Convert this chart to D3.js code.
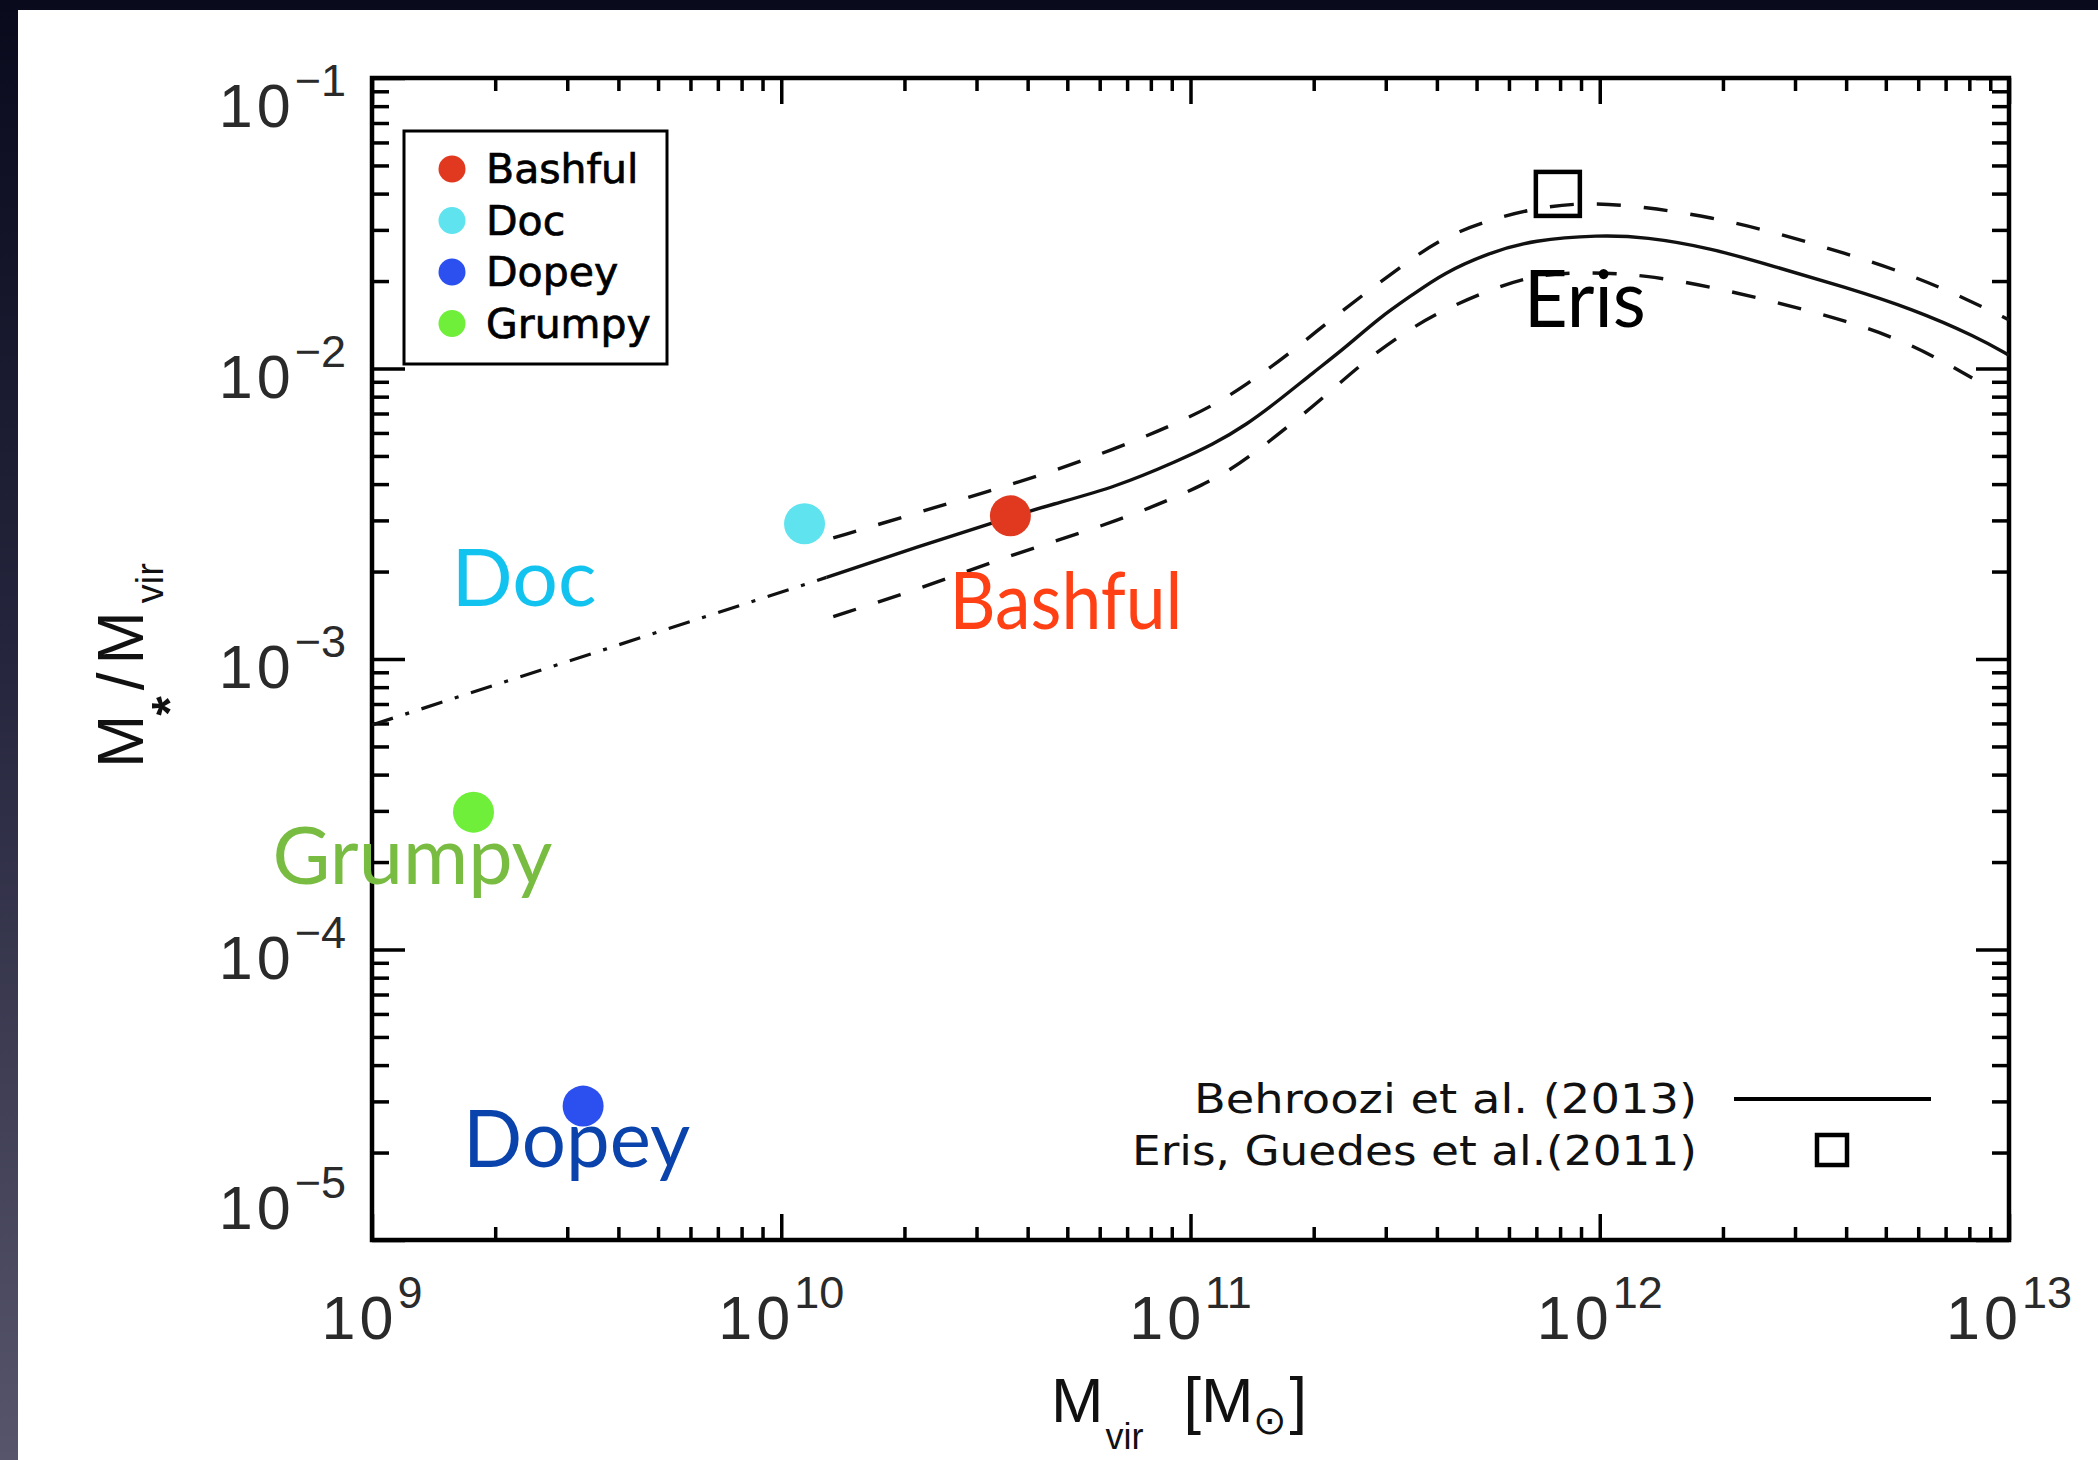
<!DOCTYPE html>
<html>
<head>
<meta charset="utf-8">
<script src="https://cdn.jsdelivr.net/npm/d3@7"></script>
<style>
  html, body { margin: 0; padding: 0; }
  body { width: 2098px; height: 1460px; overflow: hidden;
         background: linear-gradient(180deg, #0a0a1d 0%, #25253d 45%, #56556b 100%); }
  svg { display: block; }
</style>
</head>
<body>
<svg id="chart" width="2098" height="1460"></svg>
<script>
// ---------------- DATA ----------------
const xTickValues = [1e9, 1e10, 1e11, 1e12, 1e13];
const xTickExponents = ["9", "10", "11", "12", "13"];
const yTickValues = [1e-1, 1e-2, 1e-3, 1e-4, 1e-5];
const yTickExponents = ["\u22121", "\u22122", "\u22123", "\u22124", "\u22125"];

// dwarf galaxies [Mvir, M*/Mvir]
const dwarfNames  = ["Bashful", "Doc", "Dopey", "Grumpy"];
const dwarfMvir   = [3.63e10, 1.14e10, 3.28e9, 1.77e9];
const dwarfRatio  = [3.11e-3, 2.92e-3, 2.89e-5, 2.97e-4];
const dwarfColors = ["#e0391f", "#5fe3ee", "#2b50ef", "#6fee3a"];
const labelColors = ["#ff3f14", "#12c3ef", "#0b43ad", "#78bc42"];

// Eris
const erisMvir = 7.9e11;
const erisRatio = 0.0399;

// Behroozi et al. (2013) median relation (solid)
const behrooziMvir = [1.29e10, 2.14e10, 3.63e10, 4.53e10, 6.59e10, 9.40e10, 1.13e11, 1.37e11, 1.65e11,
  1.99e11, 2.40e11, 2.90e11, 3.48e11, 4.15e11, 5.35e11, 6.89e11, 9.98e11, 1.29e12, 1.87e12,
  2.71e12, 3.95e12, 5.77e12, 8.39e12, 1e13];
const behrooziRatio = [1.91e-3, 2.43e-3, 3.08e-3, 3.39e-3, 3.91e-3, 4.84e-3, 5.46e-3, 6.40e-3, 7.80e-3,
  9.66e-3, 1.186e-2, 1.50e-2, 1.79e-2, 2.13e-2, 2.50e-2, 2.77e-2, 2.88e-2, 2.84e-2, 2.60e-2,
  2.23e-2, 1.91e-2, 1.61e-2, 1.28e-2, 1.11e-2];

// upper scatter (dashed)
const upperMvir = [1.34e10, 2.14e10, 3.10e10, 5.45e10, 1.05e11, 1.39e11, 1.75e11, 2.16e11, 2.69e11,
  3.37e11, 4.10e11, 5.35e11, 6.89e11, 9.27e11, 1.29e12, 1.87e12, 2.71e12, 3.95e12, 5.77e12, 7.98e12, 1e13];
const upperRatio = [2.61e-3, 3.18e-3, 3.72e-3, 4.76e-3, 6.92e-3, 8.91e-3, 1.13e-2, 1.44e-2, 1.83e-2,
  2.31e-2, 2.81e-2, 3.24e-2, 3.56e-2, 3.74e-2, 3.60e-2, 3.32e-2, 2.93e-2, 2.50e-2, 2.10e-2, 1.72e-2, 1.47e-2];

// lower scatter (dashed)
const lowerMvir = [1.34e10, 2.14e10, 3.76e10, 6.59e10, 1.12e11, 1.39e11, 1.73e11, 2.15e11, 2.63e11,
  3.30e11, 4.10e11, 5.35e11, 6.89e11, 9.27e11, 1.29e12, 1.87e12, 2.71e12, 3.95e12, 5.77e12, 8.13e12];
const lowerRatio = [1.40e-3, 1.73e-3, 2.32e-3, 2.96e-3, 4.04e-3, 4.95e-3, 6.30e-3, 8.11e-3, 1.045e-2,
  1.32e-2, 1.58e-2, 1.86e-2, 2.10e-2, 2.15e-2, 2.10e-2, 1.91e-2, 1.69e-2, 1.47e-2, 1.22e-2, 9.27e-3];

// extrapolation (dash-dot)
const extrapMvir = [1e9, 1.29e10];
const extrapRatio = [5.93e-4, 1.91e-3];

const legendBottomLabels = ["Behroozi et al. (2013)", "Eris, Guedes et al.(2011)"];

// ---------------- LAYOUT ----------------
const L = 372, R = 2009, T = 78, B = 1240;
const svg = d3.select("#chart");

svg.append("rect").attr("x", 18).attr("y", 10).attr("width", 2098 - 18).attr("height", 1460 - 10)
  .attr("fill", "#ffffff");

const x = d3.scaleLog().domain([1e9, 1e13]).range([L, R]);
const y = d3.scaleLog().domain([1e-5, 1e-1]).range([B, T]);

function minorTicks(lo, hi) {
  const out = [];
  for (let e = lo; e < hi; e++) for (let m = 2; m <= 9; m++) out.push(m * Math.pow(10, e));
  return out;
}
const xMinor = minorTicks(9, 13);
const yMinor = minorTicks(-5, -1);

function styleAxis(g) {
  g.select(".domain").remove();
  g.selectAll(".tick line").attr("stroke", "#000").attr("stroke-width", 3.5);
  g.selectAll(".tick text").remove();
}
const axes = svg.append("g");
// bottom
axes.append("g").attr("transform", `translate(0,${B})`)
  .call(d3.axisBottom(x).tickValues(xTickValues).tickSizeInner(-26).tickSizeOuter(0).tickFormat(() => "")).call(styleAxis);
axes.append("g").attr("transform", `translate(0,${B})`)
  .call(d3.axisBottom(x).tickValues(xMinor).tickSizeInner(-13).tickSizeOuter(0).tickFormat(() => "")).call(styleAxis);
// top
axes.append("g").attr("transform", `translate(0,${T})`)
  .call(d3.axisTop(x).tickValues(xTickValues).tickSizeInner(-26).tickSizeOuter(0).tickFormat(() => "")).call(styleAxis);
axes.append("g").attr("transform", `translate(0,${T})`)
  .call(d3.axisTop(x).tickValues(xMinor).tickSizeInner(-13).tickSizeOuter(0).tickFormat(() => "")).call(styleAxis);
// left
axes.append("g").attr("transform", `translate(${L},0)`)
  .call(d3.axisLeft(y).tickValues(yTickValues).tickSizeInner(-33).tickSizeOuter(0).tickFormat(() => "")).call(styleAxis);
axes.append("g").attr("transform", `translate(${L},0)`)
  .call(d3.axisLeft(y).tickValues(yMinor).tickSizeInner(-17).tickSizeOuter(0).tickFormat(() => "")).call(styleAxis);
// right
axes.append("g").attr("transform", `translate(${R},0)`)
  .call(d3.axisRight(y).tickValues(yTickValues).tickSizeInner(-33).tickSizeOuter(0).tickFormat(() => "")).call(styleAxis);
axes.append("g").attr("transform", `translate(${R},0)`)
  .call(d3.axisRight(y).tickValues(yMinor).tickSizeInner(-17).tickSizeOuter(0).tickFormat(() => "")).call(styleAxis);

// frame
svg.append("rect").attr("x", L).attr("y", T).attr("width", R - L).attr("height", B - T)
  .attr("fill", "none").attr("stroke", "#000").attr("stroke-width", 4.5);

// tick labels
const tickFont = "'Liberation Sans', Arial, Helvetica, sans-serif";
const xl = svg.append("g").attr("font-family", tickFont).attr("fill", "#2a2a2a");
xTickValues.forEach((v, i) => {
  const t = xl.append("text").attr("x", x(v)).attr("y", 1339).attr("text-anchor", "middle").attr("font-size", 61);
  t.append("tspan").attr("letter-spacing", 4).text("10");
  t.append("tspan").attr("font-size", 45).attr("dy", -31).text(xTickExponents[i]);
});
const yl = svg.append("g").attr("font-family", tickFont).attr("fill", "#2a2a2a");
yTickValues.forEach((v, i) => {
  const cy = Math.max(105, Math.min(1207, y(v) + 7));
  const t = yl.append("text").attr("x", 346).attr("y", cy + 22).attr("text-anchor", "end").attr("font-size", 61);
  t.append("tspan").attr("letter-spacing", 4).text("10");
  t.append("tspan").attr("font-size", 45).attr("dy", -31).text(yTickExponents[i]);
});

// axis titles
const xt = svg.append("text").attr("x", 1051).attr("y", 1422).attr("font-family", tickFont)
  .attr("fill", "#111").attr("font-size", 63);
xt.append("tspan").text("M");
xt.append("tspan").attr("font-size", 36).attr("dy", 27).attr("dx", 2).text("vir");
xt.append("tspan").attr("dy", -27).attr("dx", 40).text("[M");
xt.append("tspan").attr("font-size", 40).attr("dy", 12).attr("dx", 0).text("\u2299");
xt.append("tspan").attr("dy", -12).attr("dx", 2).text("]");

const yt = svg.append("text").attr("transform", "translate(143,768) rotate(-90)")
  .attr("font-family", tickFont).attr("fill", "#111").attr("font-size", 64);
yt.append("tspan").text("M");
yt.append("tspan").attr("font-size", 50).attr("font-weight", "bold").attr("dy", 44).attr("dx", -1).text("*");
yt.append("tspan").attr("dy", -44).attr("dx", 6).text("/");
yt.append("tspan").attr("dx", 8).text("M");
yt.append("tspan").attr("font-size", 38).attr("dy", 20).attr("dx", 8).text("vir");

// ---------------- LINES ----------------
svg.append("clipPath").attr("id", "plotclip").append("rect")
  .attr("x", L).attr("y", T).attr("width", R - L).attr("height", B - T);
const plot = svg.append("g").attr("clip-path", "url(#plotclip)");
const line = d3.line().x(d => x(d[0])).y(d => y(d[1])).curve(d3.curveBasis);
const zip = (a, b) => a.map((v, i) => [v, b[i]]);

plot.append("path").datum(zip(extrapMvir, extrapRatio)).attr("d", line)
  .attr("fill", "none").attr("stroke", "#111").attr("stroke-width", 3.2).attr("stroke-dasharray", "22,13,4,13");
plot.append("path").datum(zip(upperMvir, upperRatio)).attr("d", line)
  .attr("fill", "none").attr("stroke", "#111").attr("stroke-width", 3.4).attr("stroke-dasharray", "24,23");
plot.append("path").datum(zip(lowerMvir, lowerRatio)).attr("d", line)
  .attr("fill", "none").attr("stroke", "#111").attr("stroke-width", 3.4).attr("stroke-dasharray", "24,23");
plot.append("path").datum(zip(behrooziMvir, behrooziRatio)).attr("d", line)
  .attr("fill", "none").attr("stroke", "#111").attr("stroke-width", 3.4);

// Eris square
const erisSize = 44;
plot.append("rect").attr("x", x(erisMvir) - erisSize / 2).attr("y", y(erisRatio) - erisSize / 2)
  .attr("width", erisSize).attr("height", erisSize).attr("fill", "none").attr("stroke", "#000").attr("stroke-width", 4.5);

// dwarf points
plot.selectAll("circle.dwarf").data(dwarfNames).enter().append("circle").attr("class", "dwarf")
  .attr("cx", (d, i) => x(dwarfMvir[i])).attr("cy", (d, i) => y(dwarfRatio[i])).attr("r", 20.5)
  .attr("fill", (d, i) => dwarfColors[i]);

// ---------------- ANNOTATIONS ----------------
const annFont = "Lato, 'Open Sans', sans-serif";
// offsets of label start/baseline relative to the marker, and text widths
const annOffsets = { Bashful: [-61, 113, 233], Doc: [-353, 82, 145], Dopey: [-120, 61, 227], Grumpy: [-201, 72, 280] };
dwarfNames.forEach((n, i) => {
  const o = annOffsets[n];
  svg.append("text").attr("x", x(dwarfMvir[i]) + o[0]).attr("y", y(dwarfRatio[i]) + o[1])
    .attr("font-family", annFont).attr("font-size", 80).attr("fill", labelColors[i])
    .attr("textLength", o[2]).attr("lengthAdjust", "spacingAndGlyphs").text(n);
});
svg.append("text").attr("x", x(erisMvir) - 34).attr("y", y(erisRatio) + 133)
  .attr("font-family", annFont).attr("font-size", 80).attr("fill", "#000")
  .attr("textLength", 122).attr("lengthAdjust", "spacingAndGlyphs").text("Eris");

// ---------------- LEGENDS ----------------
const legFont = "'DejaVu Sans', Verdana, sans-serif";
const lg = svg.append("g");
lg.append("rect").attr("x", 404).attr("y", 131).attr("width", 263).attr("height", 233)
  .attr("fill", "#fff").attr("stroke", "#000").attr("stroke-width", 3);
dwarfNames.forEach((n, i) => {
  const cy = 169 + i * 51.5;
  lg.append("circle").attr("cx", 452).attr("cy", cy).attr("r", 13.5).attr("fill", dwarfColors[i]);
  lg.append("text").attr("x", 486).attr("y", cy + 14).attr("font-family", legFont).attr("font-size", 41)
    .attr("fill", "#000").attr("stroke", "#000").attr("stroke-width", 0.7).text(n);
});

const lb = svg.append("g").attr("font-family", legFont).attr("fill", "#111");
lb.append("text").attr("x", 1697).attr("y", 1113).attr("text-anchor", "end").attr("font-size", 41)
  .attr("textLength", 503).attr("lengthAdjust", "spacingAndGlyphs").text(legendBottomLabels[0]);
lb.append("text").attr("x", 1697).attr("y", 1165).attr("text-anchor", "end").attr("font-size", 41)
  .attr("textLength", 565).attr("lengthAdjust", "spacingAndGlyphs").text(legendBottomLabels[1]);
lb.append("line").attr("x1", 1734).attr("x2", 1931).attr("y1", 1099).attr("y2", 1099)
  .attr("stroke", "#000").attr("stroke-width", 4);
lb.append("rect").attr("x", 1817).attr("y", 1135).attr("width", 30).attr("height", 30)
  .attr("fill", "none").attr("stroke", "#000").attr("stroke-width", 4.5);
</script>
</body>
</html>
